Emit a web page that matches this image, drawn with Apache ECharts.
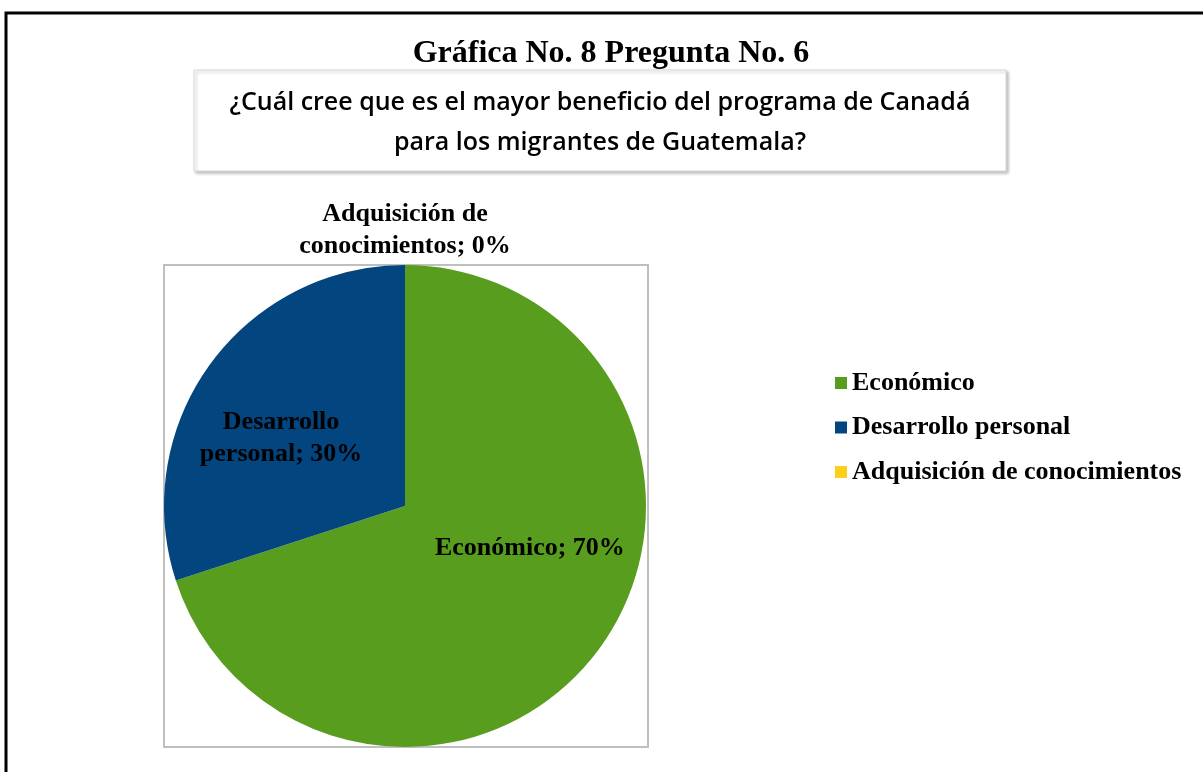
<!DOCTYPE html>
<html>
<head>
<meta charset="utf-8">
<script src="https://cdn.jsdelivr.net/npm/echarts@6/dist/echarts.min.js"></script>
<style>
    html, body {margin: 0; padding: 0; background: #fff;}
    #main {width: 1203px; height: 772px;}
</style>
</head>
<body>
<div id="main"></div>
<script>
// datos de la gráfica
var categorias = ['Económico', 'Desarrollo personal', 'Adquisición de conocimientos'];
var porcentajes = [70, 30, 0];
var colores = ['#589d1e', '#03457f', '#fccf1c'];

// desplazamiento de las etiquetas (como en Excel)
var desplaza = [[25, -30], [-24, 5], [0, -152]];

var serif = '"Liberation Serif", "Times New Roman", serif';

var myChart = echarts.init(document.getElementById('main'));
var option = {
    backgroundColor: '#fff',
    color: colores,
    animation: false,
    graphic: [
        {   // marco exterior
            type: 'rect',
            shape: {x: 6, y: 13, width: 1220, height: 800},
            style: {fill: 'none', stroke: '#000', lineWidth: 3}
        },
        {
            type: 'text',
            x: 611,
            y: 54,
            style: {
                text: 'Gráfica No. 8 Pregunta No. 6',
                font: 'bold 32px ' + serif,
                align: 'center',
                verticalAlign: 'middle',
                fill: '#000'
            }
        },
        {   // caja de la pregunta
            type: 'rect',
            shape: {x: 194, y: 70, width: 812, height: 101},
            style: {
                fill: '#fff', stroke: '#d9d9d9', lineWidth: 1,
                shadowBlur: 3, shadowOffsetX: 2, shadowOffsetY: 2,
                shadowColor: 'rgba(0,0,0,0.25)'
            }
        },
        {
            type: 'text',
            x: 600,
            y: 123,
            style: {
                text: '¿Cuál cree que es el mayor beneficio del programa de Canadá\npara los migrantes de Guatemala?',
                font: '600 25px "Open Sans", "Liberation Sans", sans-serif',
                lineHeight: 40,
                align: 'center',
                verticalAlign: 'middle',
                fill: '#000'
            }
        },
        {   // área del gráfico
            type: 'rect',
            shape: {x: 164, y: 265, width: 484, height: 482},
            style: {fill: 'none', stroke: '#bfbfbf', lineWidth: 2}
        }
    ],
    legend: {
        orient: 'vertical',
        left: 830,
        top: 364,
        icon: 'rect',
        itemWidth: 12,
        itemHeight: 12,
        itemGap: 16.5,
        selectedMode: false,
        textStyle: {
            fontFamily: serif,
            fontWeight: 'bold',
            fontSize: 26,
            lineHeight: 28,
            color: '#000'
        },
        data: categorias
    },
    series: [
        {
            type: 'pie',
            center: [405, 506],
            radius: [0, 241],
            startAngle: 90,
            clockwise: true,
            stillShowZeroSum: true,
            avoidLabelOverlap: false,
            label: {
                show: true,
                position: 'inside',
                fontFamily: serif,
                fontWeight: 'bold',
                fontSize: 26,
                lineHeight: 32,
                color: '#000',
                formatter: function (params) {
                    var n = params.name;
                    var i = n.lastIndexOf(' ');
                    if (i > 0) n = n.substring(0, i) + '\n' + n.substring(i + 1);
                    return n + '; ' + params.value + '%';
                }
            },
            labelLine: {show: false},
            labelLayout: function (params) {
                var d = desplaza[params.dataIndex];
                return {dx: d[0], dy: d[1]};
            },
            itemStyle: {borderWidth: 0},
            emphasis: {disabled: true},
            data: categorias.map(function (c, i) {
                return {name: c, value: porcentajes[i]};
            })
        }
    ]
};
myChart.setOption(option);
</script>
</body>
</html>
